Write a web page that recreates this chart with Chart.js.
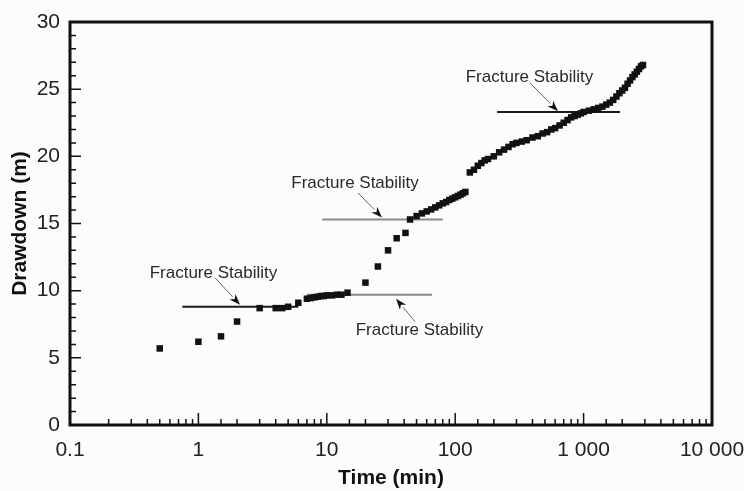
<!DOCTYPE html>
<html>
<head>
<meta charset="utf-8">
<script src="https://cdn.jsdelivr.net/npm/chart.js@4.4.1/dist/chart.umd.min.js"></script>
<style>
  html, body { margin: 0; padding: 0; background: #fcfcfc; }
  #wrap { width: 744px; height: 491px; }
</style>
</head>
<body>
<div id="wrap"><canvas id="drawdownChart"></canvas></div>
<script>
// measured drawdown vs time
const timeMin = [0.5, 1, 1.5, 2, 3, 4, 4.5, 5, 6,
  7, 7.5, 8, 8.5, 9, 9.5, 10, 11, 12, 13, 14.5,
  20, 25, 30, 35, 41, 44.5,
  50, 55, 60, 65, 70, 75, 80, 85, 90, 95, 100, 105, 110, 115, 120,
  130, 140, 150, 160, 170, 180,
  200, 220, 240, 260, 280, 300,
  330, 360,
  400, 440, 480, 520, 560, 600,
  650, 700, 750, 800, 850, 900, 950, 1000,
  1100, 1200, 1300, 1400, 1500, 1600, 1700, 1800, 1900, 2000,
  2100, 2200, 2300, 2400, 2500, 2600, 2700, 2800, 2900];
const drawdownM = [5.7, 6.2, 6.6, 7.7, 8.7, 8.7, 8.7, 8.8, 9.1,
  9.4, 9.45, 9.5, 9.55, 9.6, 9.6, 9.65, 9.65, 9.7, 9.7, 9.85,
  10.6, 11.8, 13.0, 13.9, 14.3, 15.3,
  15.55, 15.75, 15.9, 16.05, 16.2, 16.35, 16.5, 16.6, 16.75, 16.85, 16.95, 17.05, 17.15, 17.25, 17.35,
  18.8, 19.0, 19.3, 19.5, 19.7, 19.8,
  20.0, 20.3, 20.5, 20.7, 20.9, 21.0,
  21.1, 21.2,
  21.4, 21.5, 21.7, 21.8, 22.0, 22.1,
  22.3, 22.5, 22.7, 22.9, 23.0, 23.1, 23.2, 23.3,
  23.4, 23.5, 23.6, 23.7, 23.85, 24.0, 24.2, 24.45, 24.7, 24.9,
  25.1, 25.4, 25.65, 25.9, 26.1, 26.3, 26.5, 26.7, 26.8];

const xTickValues = [0.1, 1, 10, 100, 1000, 10000];
const xTickLabels = ['0.1', '1', '10', '100', '1 000', '10 000'];
const yTickValues = [0, 5, 10, 15, 20, 25, 30];

// fracture stability levels (drawdown) and their time spans
const stabLevel = [8.8, 9.7, 15.3, 23.3];
const stabFrom = [0.75, 7, 9.2, 212];
const stabTo = [6, 66, 80, 1920];
const stabText = 'Fracture Stability';

const FONT = "'Liberation Sans', Arial, Helvetica, sans-serif";

const isDecade = v => Math.abs(Math.log10(v) - Math.round(Math.log10(v))) < 1e-6;

const lineColors = ['#1a1a1a', '#8a8a8a', '#8a8a8a', '#1a1a1a'];
const stabSets = stabLevel.map((lv, i) => ({
  type: 'line',
  data: [{x: stabFrom[i], y: lv}, {x: stabTo[i], y: lv}],
  borderColor: lineColors[i],
  borderWidth: 2,
  pointRadius: 0,
  order: 2
}));

// label anchor (data coords) + arrow tail/tip, one per stability line
const notes = [
  {tx: 1.31, ty: 11.3, ax: 1.35, ay: 10.95, bx: 2.11, by: 8.95},
  {tx: 52.7, ty: 7.05, ax: 48.6, ay: 7.7, bx: 34.6, by: 9.4},
  {tx: 16.6, ty: 18.0, ax: 17.5, ay: 17.27, bx: 26.9, by: 15.45},
  {tx: 379, ty: 25.9, ax: 382, ay: 25.47, bx: 632, by: 23.35}
];

const frameAndNotes = {
  id: 'frameAndNotes',
  afterDatasetsDraw(chart) {
    const {ctx, chartArea: a, scales: {x, y}} = chart;
    ctx.save();
    // tick marks, pointing inward
    ctx.strokeStyle = '#111';
    ctx.lineWidth = 1.5;
    ctx.beginPath();
    x.ticks.forEach(t => {
      const px = x.getPixelForValue(t.value);
      const len = isDecade(t.value) ? 12 : 6;
      ctx.moveTo(px, a.bottom);
      ctx.lineTo(px, a.bottom - len);
    });
    y.ticks.forEach(t => {
      const py = y.getPixelForValue(t.value);
      const len = yTickValues.includes(t.value) ? 11 : 6;
      ctx.moveTo(a.left, py);
      ctx.lineTo(a.left + len, py);
    });
    ctx.stroke();
    // frame
    ctx.lineWidth = 3;
    ctx.strokeStyle = '#111';
    ctx.strokeRect(a.left, a.top, a.right - a.left, a.bottom - a.top);

    // annotations
    ctx.font = '17px ' + FONT;
    ctx.fillStyle = '#2a2a2a';
    ctx.textAlign = 'center';
    ctx.textBaseline = 'middle';
    notes.forEach(n => {
      ctx.fillText(stabText, x.getPixelForValue(n.tx), y.getPixelForValue(n.ty));
      const x0 = x.getPixelForValue(n.ax), y0 = y.getPixelForValue(n.ay);
      const x1 = x.getPixelForValue(n.bx), y1 = y.getPixelForValue(n.by);
      const ang = Math.atan2(y1 - y0, x1 - x0);
      const hl = 11, hw = 4;
      ctx.strokeStyle = '#666';
      ctx.lineWidth = 1;
      ctx.beginPath();
      ctx.moveTo(x0, y0);
      ctx.lineTo(x1 - hl * Math.cos(ang), y1 - hl * Math.sin(ang));
      ctx.stroke();
      ctx.fillStyle = '#111';
      ctx.beginPath();
      ctx.moveTo(x1, y1);
      ctx.lineTo(x1 - hl * Math.cos(ang) - hw * Math.sin(ang), y1 - hl * Math.sin(ang) + hw * Math.cos(ang));
      ctx.lineTo(x1 - hl * 0.7 * Math.cos(ang), y1 - hl * 0.7 * Math.sin(ang));
      ctx.lineTo(x1 - hl * Math.cos(ang) + hw * Math.sin(ang), y1 - hl * Math.sin(ang) - hw * Math.cos(ang));
      ctx.closePath();
      ctx.fill();
      ctx.fillStyle = '#2a2a2a';
    });
    ctx.restore();
  }
};

new Chart(document.getElementById('drawdownChart'), {
  type: 'scatter',
  data: {
    datasets: [{
      data: timeMin.map((t, i) => ({x: t, y: drawdownM[i]})),
      pointStyle: 'rect',
      pointRadius: 4.6,
      backgroundColor: '#111',
      borderColor: '#111',
      borderWidth: 0,
      order: 1
    }].concat(stabSets)
  },
  options: {
    responsive: true,
    maintainAspectRatio: false,
    animation: false,
    layout: { padding: { top: 22, right: 32, left: 0, bottom: 0 } },
    plugins: { legend: { display: false }, tooltip: { enabled: false } },
    scales: {
      x: {
        type: 'logarithmic',
        min: 0.1,
        max: 10000,
        grid: { display: false, drawTicks: false },
        border: { display: false },
        afterFit: s => { s.height = 66; s.paddingLeft = 0; s.paddingRight = 0; },
        ticks: {
          autoSkip: false,
          maxRotation: 0,
          padding: 13,
          color: '#222',
          font: { family: FONT, size: 21 },
          callback: v => {
            const k = xTickValues.findIndex(d => Math.abs(d - v) < d * 1e-6);
            return k >= 0 ? xTickLabels[k] : '';
          }
        },
        title: {
          display: true,
          text: 'Time (min)',
          color: '#111',
          font: { family: FONT, size: 21, weight: 'bold' },
          padding: { top: 0, bottom: 0 }
        }
      },
      y: {
        min: 0,
        max: 30,
        grid: { display: false, drawTicks: false },
        border: { display: false },
        afterFit: s => { s.width = 70; s.paddingTop = 0; s.paddingBottom = 0; },
        ticks: {
          stepSize: 1,
          autoSkip: false,
          padding: 10,
          color: '#222',
          font: { family: FONT, size: 21 },
          callback: v => yTickValues.includes(v) ? String(v) : ''
        },
        title: {
          display: true,
          text: 'Drawdown (m)',
          color: '#111',
          font: { family: FONT, size: 21, weight: 'bold' },
          padding: { top: 8, bottom: 0 }
        }
      }
    }
  },
  plugins: [frameAndNotes]
});
</script>
</body>
</html>
